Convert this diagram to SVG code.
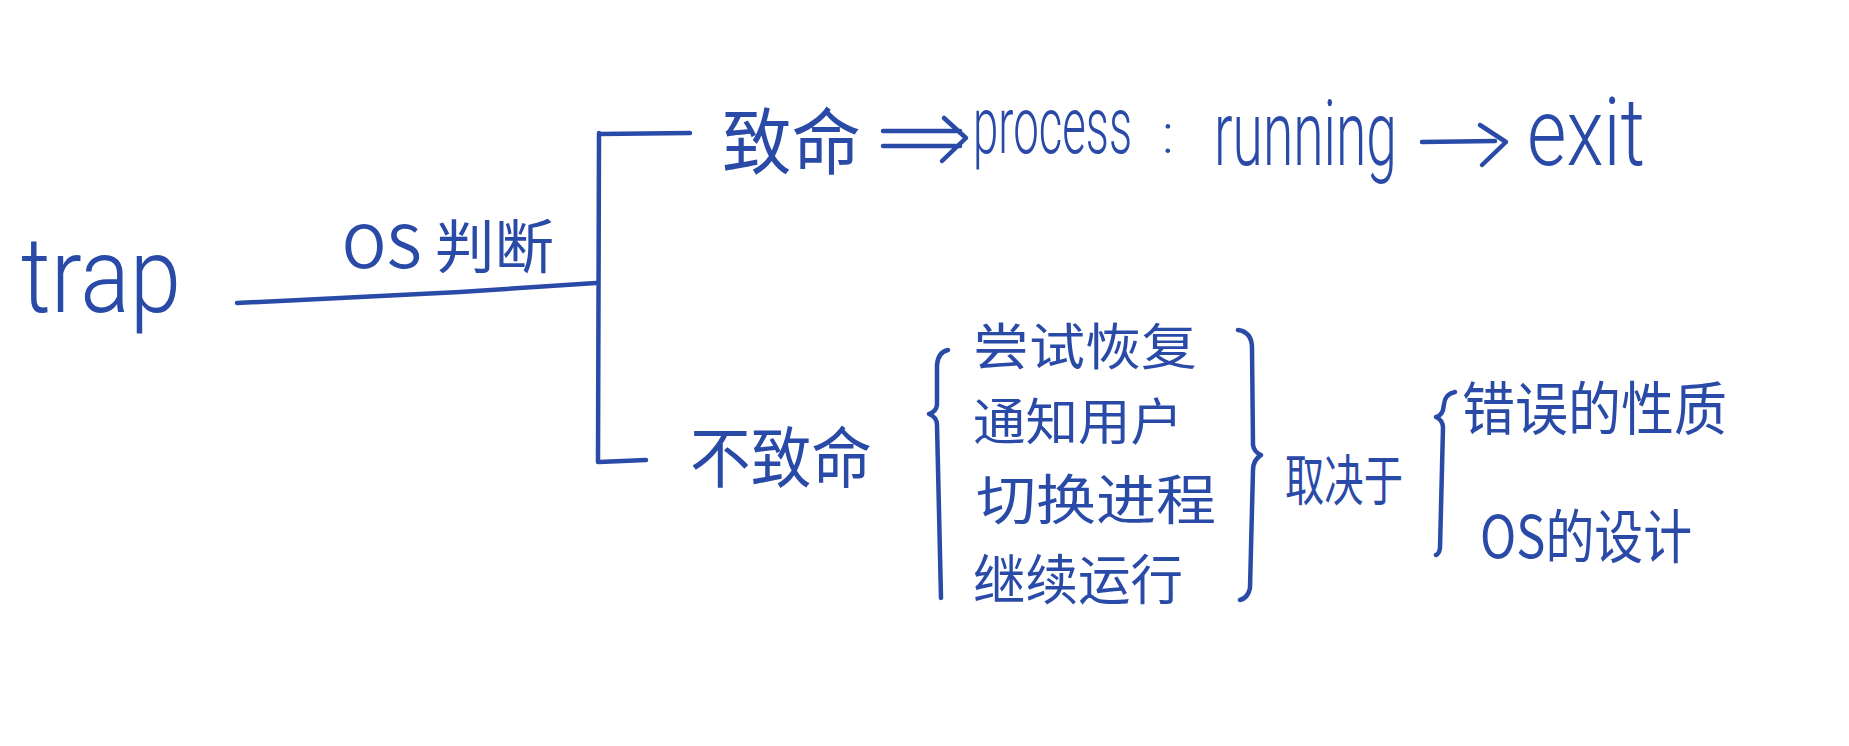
<svg xmlns="http://www.w3.org/2000/svg" width="1849" height="746" viewBox="0 0 1849 746">
<style>
.ink{fill:none;stroke:#2a4aa8;stroke-width:4.5;stroke-linecap:round;stroke-linejoin:round}
.t{fill:#2a4aa8;font-family:"Noto Sans CJK SC","Noto Sans",sans-serif;font-weight:400}
.l{fill:#2a4aa8;font-family:Roboto,"Liberation Sans",sans-serif;font-weight:300}
</style>
<rect width="1849" height="746" fill="#ffffff"/>
<g id="connectors">
<path class="ink" d="M237,303 L300,300 L460,292 L596,283"/>
<path class="ink" d="M599,133 L598,462"/>
<path class="ink" d="M600,134 L690,133"/>
<path class="ink" d="M599,462 L646,460"/>
<path class="ink" d="M883,131 L960,131 M883,146 L960,146 M944,118 L966,138 L942,161"/>
<path class="ink" d="M1422,142 L1495,141 M1480,125 L1506,142 L1482,165"/>
<path class="ink" d="M948,350 Q938,352 937,365 L937,405 Q936,412 929,414 Q937,417 937,425 L941,598"/>
<path class="ink" d="M1238,330 Q1252,332 1252,348 L1253,445 Q1254,452 1261,455 Q1253,460 1253,470 L1250,588 Q1248,598 1240,600"/>
<path class="ink" d="M1455,392 Q1445,394 1444,404 L1443,410 Q1441,416 1436,417 Q1443,420 1443,428 L1440,548 Q1439,554 1436,555"/>
</g>
<g id="trap"><text class="l" transform="translate(21,312) scale(0.9,1)" font-size="105" textLength="178" lengthAdjust="spacingAndGlyphs">trap</text></g>
<g id="os-judge"><text class="t" x="342" y="268" font-size="58" textLength="212" lengthAdjust="spacingAndGlyphs">OS 判断</text></g>
<g id="fatal">
<text class="t" x="722" y="168" font-size="72" textLength="139" lengthAdjust="spacingAndGlyphs">致命</text>
<text class="l" transform="translate(973,153) scale(0.56,1)" font-size="80" textLength="284" lengthAdjust="spacingAndGlyphs">process</text>
<text class="l" x="1162" y="153" font-size="56">:</text>
<text class="l" transform="translate(1214,165) scale(0.61,1)" font-size="90" textLength="300" lengthAdjust="spacingAndGlyphs">running</text>
<text class="l" transform="translate(1527,165) scale(0.82,1)" font-size="95" textLength="144" lengthAdjust="spacingAndGlyphs">exit</text>
</g>
<g id="nonfatal"><text class="t" x="690" y="482" font-size="66" textLength="182" lengthAdjust="spacingAndGlyphs">不致命</text></g>
<g id="actions">
<text class="t" x="973" y="365" font-size="50" textLength="224" lengthAdjust="spacingAndGlyphs">尝试恢复</text>
<text class="t" x="973" y="440" font-size="50" textLength="210" lengthAdjust="spacingAndGlyphs">通知用户</text>
<text class="t" x="976" y="520" font-size="54" textLength="240" lengthAdjust="spacingAndGlyphs">切换进程</text>
<text class="t" x="973" y="600" font-size="54" textLength="210" lengthAdjust="spacingAndGlyphs">继续运行</text>
</g>
<g id="depends"><text class="t" x="1285" y="500" font-size="55" textLength="118" lengthAdjust="spacingAndGlyphs">取决于</text></g>
<g id="factors">
<text class="t" x="1462" y="430" font-size="58" textLength="265" lengthAdjust="spacingAndGlyphs">错误的性质</text>
<text class="t" x="1480" y="558" font-size="58" textLength="212" lengthAdjust="spacingAndGlyphs">OS的设计</text>
</g>
</svg>
